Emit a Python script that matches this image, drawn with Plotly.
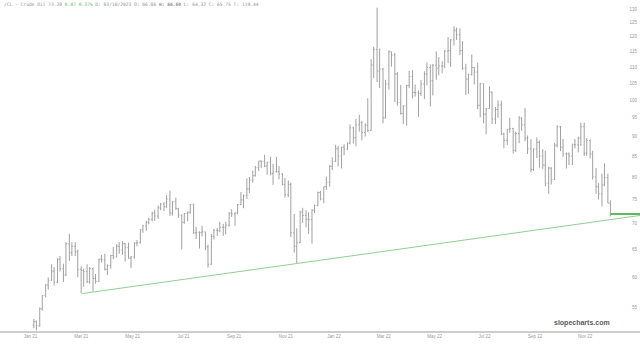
import math
import pandas as pd
import plotly.graph_objects as go

# ---------------- data: two bars per week (Mon-Wed, Thu-Fri) ----------------
week_dates = [
    "2021-01-25", "2021-02-01", "2021-02-08", "2021-02-15", "2021-02-22", "2021-03-01", "2021-03-08",
    "2021-03-15", "2021-03-22", "2021-03-29", "2021-04-05", "2021-04-12", "2021-04-19", "2021-04-26",
    "2021-05-03", "2021-05-10", "2021-05-17", "2021-05-24", "2021-05-31", "2021-06-07", "2021-06-14",
    "2021-06-21", "2021-06-28", "2021-07-05", "2021-07-12", "2021-07-19", "2021-07-26", "2021-08-02",
    "2021-08-09", "2021-08-16", "2021-08-23", "2021-08-30", "2021-09-06", "2021-09-13", "2021-09-20",
    "2021-09-27", "2021-10-04", "2021-10-11", "2021-10-18", "2021-10-25", "2021-11-01", "2021-11-08",
    "2021-11-15", "2021-11-22", "2021-11-29", "2021-12-06", "2021-12-13", "2021-12-20", "2021-12-27",
    "2022-01-03", "2022-01-10", "2022-01-17", "2022-01-24", "2022-01-31", "2022-02-07", "2022-02-14",
    "2022-02-21", "2022-02-28", "2022-03-07", "2022-03-14", "2022-03-21", "2022-03-28", "2022-04-04",
    "2022-04-11", "2022-04-18", "2022-04-25", "2022-05-02", "2022-05-09", "2022-05-16", "2022-05-23",
    "2022-05-30", "2022-06-06", "2022-06-13", "2022-06-20", "2022-06-27", "2022-07-04", "2022-07-11",
    "2022-07-18", "2022-07-25", "2022-08-01", "2022-08-08", "2022-08-15", "2022-08-22", "2022-08-29",
    "2022-09-05", "2022-09-12", "2022-09-19", "2022-09-26", "2022-10-03", "2022-10-10", "2022-10-17",
    "2022-10-24", "2022-10-31", "2022-11-07", "2022-11-14", "2022-11-21", "2022-11-28", "2022-12-05",
]
bar_offsets_days = [0, 3]  # first half-week bar on Monday, second on Thursday

opens = [
    52.3, 52.8, 52.2, 54.8, 56.9, 58.7, 59.5, 61.1, 59.2, 63.2, 61.5, 60.4, 66.1, 64.4,
    65.6, 64.6, 61.4, 61.2, 61.0, 59.2, 61.5, 59.8, 59.3, 63.2, 63.1, 61.4, 62.1, 63.9,
    63.6, 65.6, 64.9, 66.1, 65.4, 63.4, 63.6, 66.2, 66.3, 68.8, 69.6, 70.3, 70.9, 72.2,
    71.6, 73.3, 74.1, 73.5, 75.2, 72.2, 74.6, 73.1, 71.8, 70.3, 72.1, 72.4, 73.9, 68.2,
    68.3, 68.3, 68.4, 65.5, 62.3, 67.5, 68.7, 68.6, 69.3, 69.3, 69.7, 72.2, 72.0, 72.2,
    74.0, 75.0, 75.9, 77.4, 79.4, 80.4, 82.3, 83.9, 83.8, 82.7, 83.6, 80.9, 81.3, 81.3,
    80.8, 78.4, 76.1, 78.4, 68.2, 65.6, 66.3, 72.4, 71.7, 70.9, 70.9, 72.8, 73.8, 76.6,
    75.2, 77.9, 78.9, 82.6, 83.8, 86.9, 85.1, 87.3, 86.8, 88.3, 92.3, 89.7, 93.1, 93.7,
    91.1, 93.0, 91.6, 110.6, 115.7, 108.7, 109.3, 95.0, 104.7, 114.9, 113.9, 107.8, 99.3, 96.2,
    98.3, 104.3, 107.0, 102.2, 102.1, 101.9, 104.7, 107.8, 109.8, 105.7, 110.5, 109.6, 110.3, 110.3,
    115.1, 115.3, 118.9, 122.1, 120.7, 115.3, 109.6, 106.2, 107.6, 109.8, 108.4, 98.5, 104.8, 96.0,
    97.6, 102.3, 94.7, 97.3, 98.6, 90.7, 89.0, 91.9, 92.1, 86.5, 90.8, 94.9, 93.1, 89.6,
    86.9, 81.9, 86.8, 88.5, 85.1, 82.9, 78.7, 82.2, 79.5, 87.8, 92.6, 87.3, 85.6, 85.6,
    85.1, 87.9, 87.9, 89.6, 92.6, 85.8, 89.0, 85.6, 80.1, 77.9, 76.3, 78.3, 80.0, 74.3,
]
highs = [
    53.2, 53.0, 55.0, 57.0, 58.8, 60.0, 62.3, 61.8, 63.4, 63.8, 62.4, 66.4, 68.0, 66.4,
    66.4, 65.0, 61.9, 61.5, 62.3, 61.8, 61.7, 60.6, 63.3, 64.0, 64.2, 62.3, 64.0, 65.5,
    66.0, 66.4, 66.6, 66.2, 66.3, 63.8, 66.4, 66.8, 68.9, 69.8, 70.6, 71.2, 72.5, 72.9,
    73.8, 74.3, 74.5, 76.0, 77.0, 74.8, 75.5, 73.3, 71.9, 72.2, 72.5, 74.1, 74.2, 69.4,
    68.5, 69.6, 68.4, 65.9, 68.0, 69.0, 69.2, 70.4, 70.0, 70.4, 72.4, 73.0, 72.3, 74.1,
    76.7, 76.2, 79.8, 80.1, 81.6, 82.7, 83.9, 84.0, 85.4, 83.7, 84.9, 83.2, 84.9, 82.7,
    81.0, 79.9, 79.3, 78.8, 72.0, 69.1, 72.7, 73.3, 72.8, 72.4, 73.0, 74.0, 76.8, 77.0,
    77.9, 80.2, 82.9, 84.8, 87.9, 87.6, 87.4, 88.0, 88.5, 93.2, 92.6, 94.7, 95.8, 94.2,
    93.5, 100.5, 112.5, 116.6, 130.5, 116.0, 109.7, 106.0, 115.4, 115.0, 114.5, 108.4, 104.5, 98.6,
    104.5, 108.8, 109.0, 104.6, 102.8, 105.9, 108.6, 111.4, 110.8, 111.0, 115.0, 113.2, 111.8, 115.5,
    119.9, 119.2, 123.7, 123.2, 123.0, 118.5, 111.0, 107.9, 114.0, 110.0, 111.4, 105.1, 104.9, 97.7,
    104.0, 102.5, 98.0, 99.9, 99.8, 91.0, 91.9, 95.0, 92.3, 91.3, 95.5, 95.2, 97.7, 90.3,
    89.3, 87.0, 89.8, 89.0, 86.8, 86.4, 82.5, 82.4, 88.4, 93.0, 92.8, 89.4, 86.0, 86.0,
    88.2, 89.4, 90.0, 93.7, 93.7, 89.6, 89.3, 86.4, 82.2, 78.7, 80.9, 83.3, 80.9, 74.9,
]
lows = [
    51.8, 51.5, 52.0, 54.5, 56.6, 57.9, 59.4, 58.6, 59.0, 61.0, 59.2, 60.2, 62.9, 63.8,
    63.8, 60.0, 57.3, 58.4, 59.0, 58.9, 57.6, 58.9, 59.2, 62.6, 61.2, 60.4, 61.5, 63.2,
    63.6, 64.2, 64.0, 62.8, 63.3, 61.6, 63.3, 65.6, 66.1, 68.2, 68.6, 69.9, 70.5, 70.6,
    71.0, 72.8, 72.6, 73.3, 71.6, 71.7, 72.9, 71.2, 65.0, 70.0, 70.5, 72.0, 68.0, 67.0,
    65.2, 67.5, 64.9, 61.7, 62.2, 66.9, 67.6, 68.3, 67.6, 67.9, 69.4, 71.4, 69.6, 71.9,
    73.9, 73.2, 75.2, 76.5, 78.8, 80.2, 81.5, 82.2, 82.4, 80.6, 80.5, 78.3, 81.2, 79.6,
    78.2, 75.5, 75.6, 67.4, 64.4, 62.4, 66.2, 70.2, 69.3, 68.0, 66.1, 72.2, 73.6, 74.9,
    74.3, 77.2, 77.9, 81.7, 83.6, 82.6, 82.1, 85.3, 86.6, 88.0, 88.2, 87.5, 91.3, 89.0,
    90.0, 91.2, 91.5, 106.5, 105.3, 103.5, 93.5, 94.8, 103.0, 110.1, 99.4, 98.4, 95.9, 93.3,
    92.9, 103.5, 100.5, 101.0, 95.3, 101.2, 100.3, 104.3, 98.2, 101.3, 106.0, 107.4, 108.0, 109.6,
    111.2, 110.0, 117.0, 118.9, 113.8, 109.0, 101.5, 101.8, 107.3, 104.6, 97.4, 95.1, 93.5, 90.6,
    97.5, 93.3, 93.3, 95.0, 90.4, 87.0, 87.8, 91.0, 85.7, 86.1, 88.3, 91.5, 88.8, 85.6,
    81.2, 81.5, 84.6, 82.3, 82.0, 78.0, 76.3, 78.4, 79.4, 87.2, 86.3, 84.9, 82.1, 82.9,
    82.9, 87.0, 86.0, 87.6, 85.1, 85.2, 84.5, 79.5, 76.3, 75.1, 73.6, 78.0, 74.3, 71.5,
]
closes = [
    52.8, 52.2, 54.8, 56.9, 58.7, 59.5, 61.1, 59.2, 63.2, 61.5, 60.4, 66.1, 64.4, 65.6,
    64.6, 61.4, 61.2, 61.0, 59.2, 61.5, 59.8, 59.3, 63.2, 63.1, 61.4, 62.1, 63.9, 63.6,
    65.6, 64.9, 66.1, 65.4, 63.4, 63.6, 66.2, 66.3, 68.8, 69.6, 70.3, 70.9, 72.2, 71.6,
    73.3, 74.1, 73.5, 75.2, 72.2, 74.6, 73.1, 71.8, 70.3, 72.1, 72.4, 74.0, 68.2, 68.3,
    68.3, 68.4, 65.5, 62.3, 67.5, 68.7, 68.6, 69.3, 69.3, 69.7, 72.2, 72.0, 72.2, 74.0,
    75.0, 75.9, 77.4, 79.4, 80.4, 82.3, 83.9, 83.8, 82.7, 83.6, 80.9, 81.3, 81.3, 80.8,
    78.4, 76.1, 78.4, 68.2, 65.6, 66.3, 72.4, 71.7, 70.9, 70.9, 72.8, 73.8, 76.6, 75.2,
    77.9, 78.9, 82.6, 83.8, 86.9, 85.1, 87.3, 86.8, 88.3, 92.3, 89.7, 93.1, 93.7, 91.1,
    93.0, 91.6, 110.6, 115.7, 108.7, 109.3, 95.0, 104.7, 114.9, 113.9, 107.8, 99.3, 96.2, 98.3,
    104.3, 107.0, 102.2, 102.1, 101.9, 104.7, 107.8, 109.8, 105.7, 110.5, 109.6, 110.3, 110.3, 115.1,
    115.3, 118.9, 122.1, 120.7, 115.3, 109.6, 106.2, 107.6, 109.8, 108.4, 98.5, 104.8, 96.0, 97.6,
    102.3, 94.7, 97.3, 98.6, 90.7, 89.0, 91.9, 92.1, 86.5, 90.8, 94.9, 93.1, 89.6, 86.9,
    81.9, 86.8, 88.5, 85.1, 82.9, 78.7, 82.2, 79.5, 87.8, 92.6, 87.3, 85.6, 85.6, 85.1,
    87.9, 87.9, 89.6, 92.6, 85.8, 89.0, 85.6, 80.1, 77.9, 76.3, 78.3, 80.0, 74.3, 72.0,
]

trend_dates = ["2021-03-23", "2023-01-12"]
trend_values = [57.25, 71.7]

last_line_dates = ["2022-12-08", "2023-01-12"]
last_line_values = [72.0, 72.0]

y_tick_values = [55, 60, 65, 70, 75, 80, 85, 90, 95, 100, 105, 110, 115, 120, 125, 130]
x_tick_dates = ["2021-01-21", "2021-03-22", "2021-05-22", "2021-07-21", "2021-09-19", "2021-11-19",
                "2022-01-15", "2022-03-15", "2022-05-14", "2022-07-12", "2022-09-10", "2022-11-08"]
x_tick_labels = ["Jan 21", "Mar 21", "May 21", "Jul 21", "Sep 21", "Nov 21",
                 "Jan 22", "Mar 22", "May 22", "Jul 22", "Sep 22", "Nov 22"]

header_text = ("/CL - Crude Oil 73.28 <span style='color:#5cb85c'>0.07 0.37%</span> D: 03/10/2023 "
               "O: 66.86 <b>H: 66.60</b> L: 64.32 C: 65.75 T: 119.44")

# x positions of the half-week bars
bar_dates = [pd.Timestamp(d) + pd.Timedelta(days=k) for d in week_dates for k in bar_offsets_days]

# ---------------- figure ----------------
GRAY = "#a0a0a0"
fig = go.Figure()
fig.add_trace(go.Ohlc(
    x=bar_dates, open=opens, high=highs, low=lows, close=closes,
    increasing=dict(line=dict(color=GRAY, width=1)),
    decreasing=dict(line=dict(color=GRAY, width=1)),
    tickwidth=0.4, showlegend=False, hoverinfo="skip",
))
fig.add_trace(go.Scatter(
    x=trend_dates, y=trend_values, mode="lines",
    line=dict(color="#8fcf8f", width=1), showlegend=False, hoverinfo="skip",
))
fig.add_trace(go.Scatter(
    x=last_line_dates, y=last_line_values, mode="lines",
    line=dict(color="#5cb85c", width=2), showlegend=False, hoverinfo="skip",
))

fig.update_layout(
    width=640, height=345,
    margin=dict(l=0, r=0, t=0, b=14),
    paper_bgcolor="white", plot_bgcolor="white",
    showlegend=False,
    xaxis=dict(
        type="date", range=["2020-12-16", "2023-01-12"],
        rangeslider=dict(visible=False),
        showgrid=False, zeroline=False,
        showline=True, linecolor="#cccccc", linewidth=2,
        tickvals=x_tick_dates, ticktext=x_tick_labels, ticks="",
        tickfont=dict(family="Liberation Sans, Arial", size=4.5, color="#999999"),
    ),
    yaxis=dict(
        type="log", range=[math.log10(51.4), math.log10(133.4)],
        side="right", ticklabelposition="inside",
        showgrid=False, zeroline=False, showline=False, ticks="",
        tickvals=y_tick_values, ticktext=[str(v) for v in y_tick_values],
        tickfont=dict(family="Liberation Sans, Arial", size=4.5, color="#999999"),
    ),
    annotations=[
        dict(text=header_text, xref="paper", yref="paper", x=0.003, y=1 - 5 / 331,
             xanchor="left", yanchor="middle", showarrow=False,
             font=dict(family="DejaVu Sans Mono, monospace", size=4.6, color="#8f8f8f")),
        dict(text="<b>slopecharts.com</b>", xref="paper", yref="paper", x=582 / 640, y=1 - 323 / 331,
             xanchor="center", yanchor="middle", showarrow=False,
             font=dict(family="Liberation Sans, Arial", size=7, color="#5a5a5a")),
    ],
)

fig.write_html("out.html")
